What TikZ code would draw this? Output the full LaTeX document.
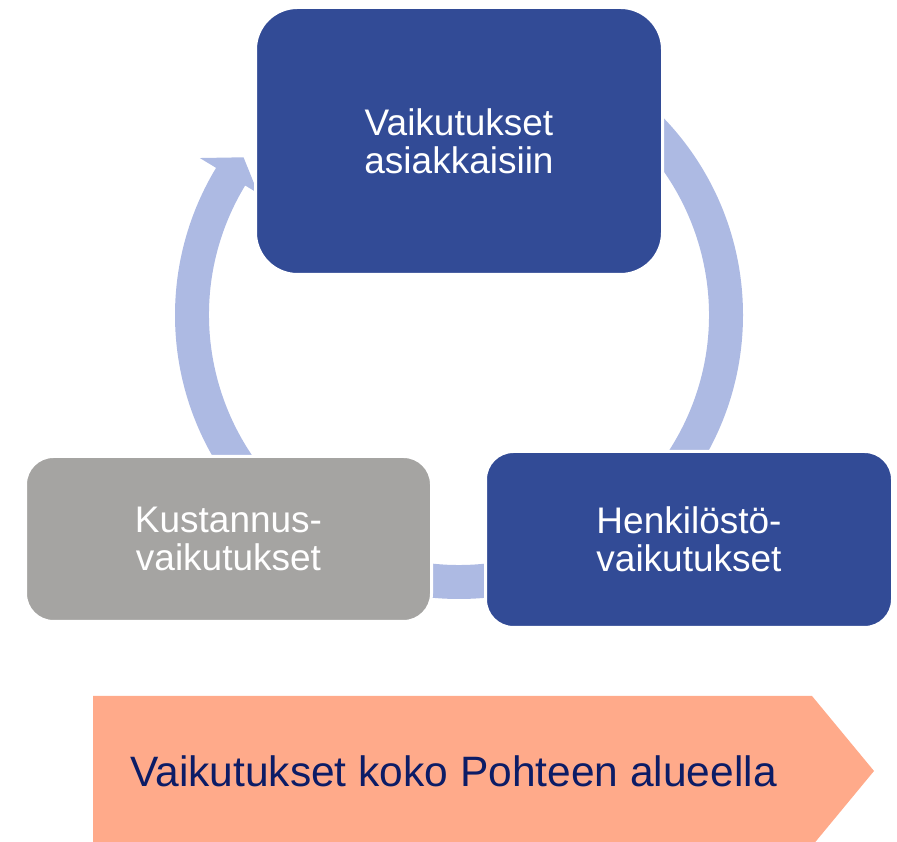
\documentclass[tikz,border=0pt]{standalone}
\usepackage{fontspec}
\setmainfont{Liberation Sans}
\usepackage{tikz}
\usetikzlibrary{shapes,arrows,positioning,calc}

\definecolor{boxblue}{RGB}{50,75,150}
\definecolor{boxgray}{RGB}{165,164,162}
\definecolor{ringblue}{RGB}{173,186,227}
\definecolor{salmon}{RGB}{255,170,138}
\definecolor{navytext}{RGB}{12,28,102}

\tikzset{cyclebox/.style={
    draw=white,
    line width=3pt,
    rectangle,
    rounded corners=28pt,
    text=white,
    align=center,
    inner sep=0pt,
    font=\fontsize{37}{38}\selectfont,
  }}
\tikzset{bannertext/.style={
    anchor=base west,
    inner sep=0pt,
    text=navytext,
    font=\fontsize{42.5}{50}\selectfont,
  }}

\begin{document}
\begin{tikzpicture}[x=1pt,y=1pt]
        \useasboundingbox (0,0) rectangle (897,842);

        % cycle ring with arrow head, boxes sit on top of it
        \coordinate (ctr) at (459,527);
        \fill[ringblue] ([shift={(90:284)}]ctr) arc[start angle=90,end angle=-211.2,radius=284]
        -- ([shift={(-211.2:303)}]ctr) -- ([shift={(-216.2:267)}]ctr) -- ([shift={(-211.2:235)}]ctr)
        -- ([shift={(-211.2:250)}]ctr) arc[start angle=-211.2,end angle=90,radius=250] -- cycle;

        \node (asiakas) [cyclebox,fill=boxblue,rounded corners=42pt,
        minimum width=407,minimum height=267] at (459,701)
        {Vaikutukset\\asiakkaisiin};

        \node (kustannus) [cyclebox,fill=boxgray,
        minimum width=406,minimum height=165] at (228.5,303)
        {Kustannus-\\vaikutukset};

        \node (henkilosto) [cyclebox,fill=boxblue,
        minimum width=407,minimum height=176] at (689,302.5)
        {Henkilöstö-\\vaikutukset};

        % banner at the bottom
        \begin{scope}
          \clip (0,0) rectangle (897,842);
          \fill[salmon] (93,146) -- (812,146) -- (874,71) -- (812,-4) -- (93,-4) -- cycle;
        \end{scope}
        \node (alue) [bannertext] at (130,55) {Vaikutukset koko Pohteen alueella};
\end{tikzpicture}
\end{document}
